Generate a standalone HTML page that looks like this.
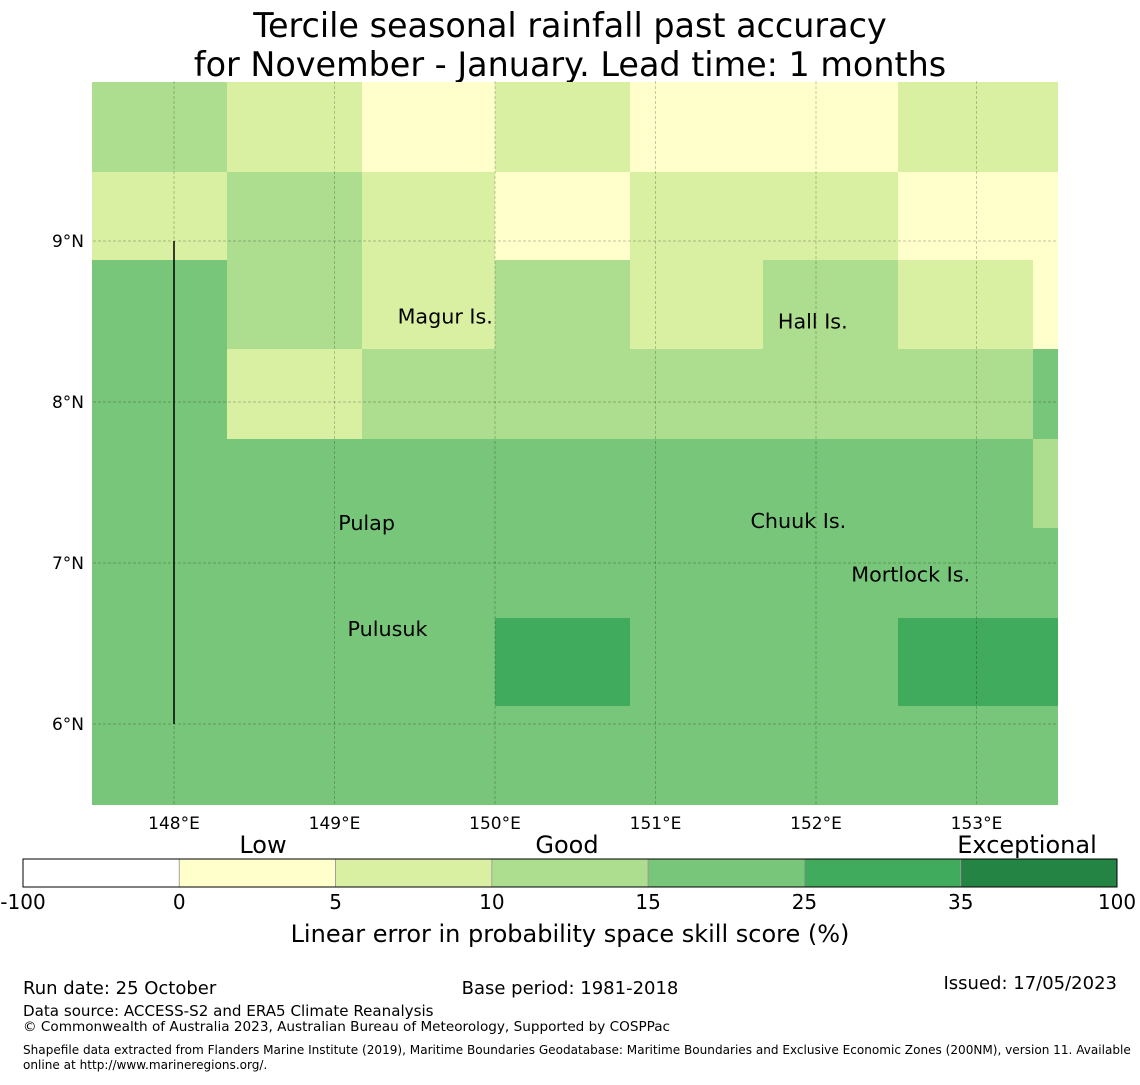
<!DOCTYPE html>
<html><head><meta charset="utf-8"><style>
body{margin:0;background:#fff;width:1140px;height:1080px;overflow:hidden;font-family:"Liberation Sans","DejaVu Sans",sans-serif}
svg text{font-family:"DejaVu Sans","Liberation Sans",sans-serif}
</style></head><body>
<svg id="s" width="1140" height="1080" xmlns="http://www.w3.org/2000/svg">
<text x="570" y="37" font-size="33.4" text-anchor="middle">Tercile seasonal rainfall past accuracy</text>
<text x="570" y="76" font-size="33.4" text-anchor="middle">for November - January. Lead time: 1 months</text>
<g id="cells"></g>
<g id="grid"></g>
<line x1="174" y1="241" x2="174" y2="724" stroke="#000" stroke-width="1.5"/>
<g id="islands" font-size="20.7"></g>
<g id="cbar"></g>
<text x="570" y="942" font-size="24" text-anchor="middle">Linear error in probability space skill score (%)</text>
<g font-size="18">
<text x="23" y="994">Run date: 25 October</text>
<text x="570" y="994" text-anchor="middle">Base period: 1981-2018</text>
<text x="1117" y="989" text-anchor="end">Issued: 17/05/2023</text>
<text x="23" y="1016" font-size="15.1">Data source: ACCESS-S2 and ERA5 Climate Reanalysis</text>
<text x="23" y="1031" font-size="13.6">© Commonwealth of Australia 2023, Australian Bureau of Meteorology, Supported by COSPPac</text>
<text x="23" y="1054" font-size="12.07">Shapefile data extracted from Flanders Marine Institute (2019), Maritime Boundaries Geodatabase: Maritime Boundaries and Exclusive Economic Zones (200NM), version 11. Available</text>
<text x="23" y="1069" font-size="12.07">online at http://www.marineregions.org/.</text>
</g>
</svg>
<script>
const lonTicks=[148,149,150,151,152,153];
const latTicks=[9,8,7,6];
const colEdges=[147.49,148.33,149.17,150.0,150.84,151.67,152.51,153.35,153.51];
const rowEdges=[9.99,9.43,8.88,8.33,7.77,7.22,6.66,6.11,5.5];
const skill=[
[12,7,2,7,2,2,7,7],
[7,12,7,2,7,7,2,2],
[20,12,7,12,7,12,7,2],
[20,7,12,12,12,12,12,20],
[20,20,20,20,20,20,20,12],
[20,20,20,20,20,20,20,20],
[20,20,20,30,20,20,30,30],
[20,20,20,20,20,20,20,20]];
const bounds=[-100,0,5,10,15,25,35,100];
const colors=["#ffffff","#ffffcc","#d9f0a3","#addd8e","#78c679","#41ab5d","#238443"];
const categories=[["Low",263],["Good",567],["Exceptional",1027]];
const islands=[["Magur Is.",149.69,8.53],["Hall Is.",151.98,8.5],["Pulap",149.2,7.25],["Chuuk Is.",151.89,7.26],["Mortlock Is.",152.59,6.93],["Pulusuk",149.33,6.59]];
const NS="http://www.w3.org/2000/svg";
const X=l=>174+(l-148)*160.5, Y=a=>241+(9-a)*161;
function mk(t,a,p){const e=document.createElementNS(NS,t);for(const k in a)e.setAttribute(k,a[k]);p.appendChild(e);return e;}
function col(v){for(let i=0;i<colors.length;i++)if(v<bounds[i+1])return colors[i];return colors[colors.length-1];}
const cells=document.getElementById('cells');
skill.forEach((row,r)=>row.forEach((v,c)=>{
 const x0=Math.round(X(colEdges[c])),x1=Math.round(X(colEdges[c+1])),y0=Math.round(Y(rowEdges[r])),y1=Math.round(Y(rowEdges[r+1]));
 const e=mk('rect',{x:x0,y:y0,width:x1-x0,height:y1-y0,fill:col(v)},cells);
 
 
}));
const g=document.getElementById('grid');
lonTicks.forEach(l=>{
 const e=mk('line',{x1:X(l),x2:X(l),y1:81,y2:805,stroke:'#000','stroke-opacity':0.3,'stroke-width':0.7,'stroke-dasharray':'3,2'},g);
 
 const t=mk('text',{x:X(l),y:829,'font-size':17,'text-anchor':'middle'},g);t.textContent=l+'°E';
 
});
latTicks.forEach(a=>{
 const e=mk('line',{x1:93,x2:1058,y1:Y(a),y2:Y(a),stroke:'#000','stroke-opacity':0.3,'stroke-width':0.7,'stroke-dasharray':'3,2'},g);
 
 const t=mk('text',{x:84,y:Y(a)+6,'font-size':17,'text-anchor':'end'},g);t.textContent=a+'°N';
 
});
const isl=document.getElementById('islands');
islands.forEach(d=>{
 const t=mk('text',{x:X(d[1]),y:Y(d[2])+7,'text-anchor':'middle'},isl);t.textContent=d[0];
 
});
const cb=document.getElementById('cbar');
const w=(1117-23)/colors.length;
colors.forEach((c,i)=>{
 const e=mk('rect',{x:23+i*w,y:859,width:w,height:28,fill:c,stroke:'#999','stroke-width':0.8},cb);
 
});
mk('rect',{x:23,y:859,width:1094,height:28,fill:'none',stroke:'#000','stroke-width':1},cb);
bounds.forEach((b,i)=>{
 const t=mk('text',{x:23+i*w,y:909,'font-size':20,'text-anchor':'middle'},cb);t.textContent=b;
 
});
categories.forEach(c=>{
 const t=mk('text',{x:c[1],y:853,'font-size':24,'text-anchor':'middle'},cb);t.textContent=c[0];
 
});
</script>
</body></html>
